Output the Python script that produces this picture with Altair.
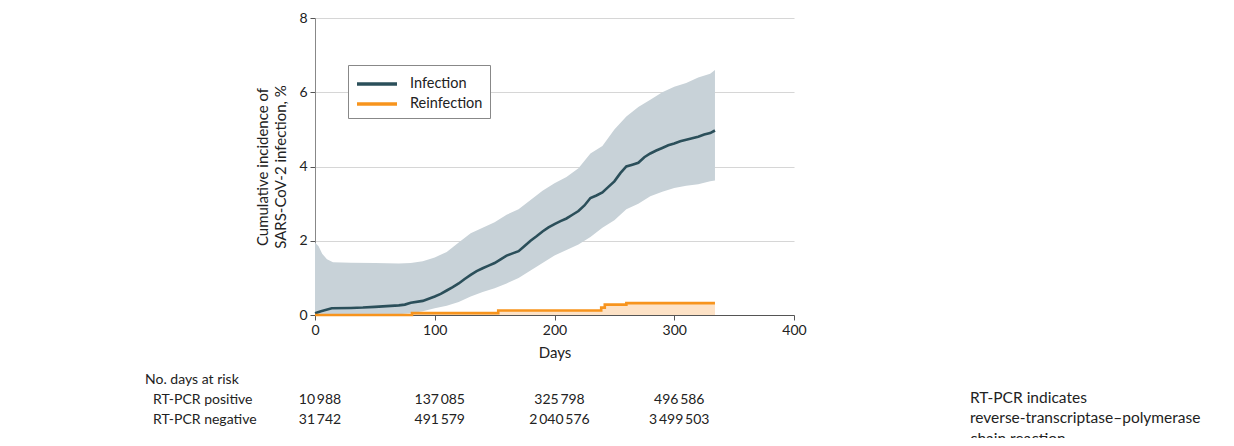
import altair as alt
import pandas as pd

# Infection cumulative incidence (estimate), %
inf_days = [0, 5, 14, 30, 40, 50, 60, 70, 75, 80, 90, 95, 100, 105, 110, 115, 120, 125, 130, 135, 140,
            145, 150, 155, 160, 165, 170, 175, 180, 185, 190, 195, 200, 205, 210, 215, 220, 225, 230,
            235, 240, 245, 250, 255, 260, 265, 270, 275, 280, 285, 290, 295, 300, 305, 310, 315, 320,
            325, 330, 334]
inf_est = [0.05, 0.1, 0.18, 0.19, 0.2, 0.22, 0.24, 0.26, 0.28, 0.33, 0.38, 0.44, 0.5, 0.57, 0.66, 0.75,
           0.85, 0.97, 1.08, 1.18, 1.26, 1.33, 1.4, 1.5, 1.6, 1.66, 1.72, 1.86, 2.0, 2.12, 2.25, 2.36,
           2.45, 2.53, 2.6, 2.7, 2.8, 2.95, 3.15, 3.22, 3.3, 3.45, 3.6, 3.82, 4.0, 4.05, 4.1, 4.25,
           4.35, 4.43, 4.5, 4.57, 4.62, 4.68, 4.72, 4.76, 4.8, 4.86, 4.9, 4.97]

# 95% CI band for infection
band_days = [0, 3, 6, 10, 15, 30, 50, 70, 80, 90, 100, 110, 120, 130, 140, 150, 160, 170, 180, 190,
             200, 210, 220, 230, 240, 250, 260, 270, 280, 290, 300, 310, 320, 330, 334]
band_lo = [0.0, 0.0, 0.0, 0.0, 0.0, 0.0, 0.0, 0.02, 0.05, 0.1, 0.18, 0.25, 0.35, 0.5, 0.62, 0.72, 0.85,
           1.0, 1.2, 1.4, 1.6, 1.75, 1.9, 2.1, 2.35, 2.55, 2.85, 3.0, 3.2, 3.32, 3.42, 3.48, 3.52,
           3.6, 3.62]
band_hi = [1.95, 1.85, 1.65, 1.5, 1.42, 1.41, 1.4, 1.39, 1.4, 1.45, 1.55, 1.7, 1.95, 2.2, 2.35, 2.5,
           2.7, 2.85, 3.1, 3.35, 3.55, 3.72, 3.95, 4.35, 4.55, 5.0, 5.35, 5.6, 5.8, 6.0, 6.15, 6.25,
           6.4, 6.5, 6.6]

# Reinfection cumulative incidence (step estimate), %
reinf_days = [0, 81, 153, 239, 242, 260, 334]
reinf_est = [0.0, 0.05, 0.12, 0.2, 0.28, 0.32, 0.32]

# Number at risk table
risk_days = [0, 100, 200, 300]
risk_pos = ["10\u2009988", "137\u2009085", "325\u2009798", "496\u2009586"]
risk_neg = ["31\u2009742", "491\u2009579", "2\u2009040\u2009576", "3\u2009499\u2009503"]

FONT = "Lato"
DARK = "#2b4f5a"
ORANGE = "#f7941d"
TXT = "#222222"

inf_df = pd.DataFrame({"day": inf_days, "val": inf_est, "series": "Infection"})
re_df = pd.DataFrame({"day": reinf_days, "val": reinf_est, "series": "Reinfection"})
band_df = pd.DataFrame({"day": band_days, "lo": band_lo, "hi": band_hi})

xs = alt.Scale(domain=[0, 400], nice=False)
ys = alt.Scale(domain=[0, 8], nice=False)
cs = alt.Scale(domain=["Infection", "Reinfection"], range=[DARK, ORANGE])

x_axis = alt.Axis(values=[0, 100, 200, 300, 400], title="Days", grid=False, labelFontSize=14,
                  titleFontSize=15, titleFontWeight="normal", domainColor="#555555",
                  tickColor="#555555", tickSize=5, labelPadding=3, titlePadding=8,
                  labelColor=TXT, titleColor=TXT, labelFont=FONT, titleFont=FONT,
                  labelFlush=False)
y_axis = alt.Axis(values=[0, 2, 4, 6, 8], title=["Cumulative incidence of", "SARS-CoV-2 infection, %"],
                  grid=True, gridColor="#d6d6d6", gridWidth=1.2, labelFontSize=14, titleFontSize=15,
                  titleFontWeight="normal", domainColor="#888888", tickColor="#555555", tickSize=5,
                  labelPadding=3, titlePadding=10, labelColor=TXT, titleColor=TXT,
                  labelFont=FONT, titleFont=FONT, titleLineHeight=18, labelFlush=False)

band = alt.Chart(band_df).mark_area(color="#c8d2d8", interpolate="linear").encode(
    x=alt.X("day:Q", scale=xs, axis=x_axis),
    y=alt.Y("lo:Q", scale=ys, axis=y_axis),
    y2="hi:Q",
)

reinf_fill = alt.Chart(re_df).mark_area(color="#fde2c6", interpolate="step-after").encode(
    x=alt.X("day:Q", scale=xs),
    y=alt.Y("val:Q", scale=ys),
)

legend = alt.Legend(title=None, orient="none", legendX=33, legendY=47,
                    symbolType="M-1,0H3", symbolSize=400, symbolStrokeWidth=3.5,
                    labelFontSize=14.5, labelFont=FONT, labelColor=TXT, labelOffset=31,
                    strokeColor="#888888", padding=7, rowPadding=1,
                    fillColor="white", symbolFillColor="transparent")

inf_line = alt.Chart(inf_df).mark_line(interpolate="linear", strokeWidth=2.6).encode(
    x=alt.X("day:Q", scale=xs),
    y=alt.Y("val:Q", scale=ys),
    color=alt.Color("series:N", scale=cs, legend=legend),
)
re_line = alt.Chart(re_df).mark_line(interpolate="step-after", strokeWidth=2.6).encode(
    x=alt.X("day:Q", scale=xs),
    y=alt.Y("val:Q", scale=ys),
    color=alt.Color("series:N", scale=cs, legend=legend),
)

risk_df = pd.DataFrame({"day": risk_days, "pos": risk_pos, "neg": risk_neg})
pos_text = alt.Chart(risk_df).mark_text(align="center", baseline="middle", fontSize=14, font=FONT,
                                        dx=5, color=TXT, clip=False).encode(
    x=alt.X("day:Q", scale=xs), y=alt.value(382), text="pos:N")
neg_text = alt.Chart(risk_df).mark_text(align="center", baseline="middle", fontSize=14, font=FONT,
                                        dx=5, color=TXT, clip=False).encode(
    x=alt.X("day:Q", scale=xs), y=alt.value(402), text="neg:N")

labels_df = pd.DataFrame({"t": ["No. days at risk", "RT-PCR positive", "RT-PCR negative"],
                          "x": [-170, -162, -162], "y": [362, 382, 402]})
row_labels = alt.Chart(labels_df).mark_text(align="left", baseline="middle", fontSize=14, font=FONT,
                                            color=TXT).encode(
    x=alt.X("x:Q", scale=None), y=alt.Y("y:Q", scale=None), text="t:N")

note_df = pd.DataFrame({"t": ["RT-PCR indicates", "reverse-transcriptase\u2013polymerase", "chain reaction"],
                        "x": [655, 655, 655], "y": [380, 400, 421]})
note = alt.Chart(note_df).mark_text(align="left", baseline="middle", fontSize=15.5, font=FONT,
                                    color=TXT).encode(
    x=alt.X("x:Q", scale=None), y=alt.Y("y:Q", scale=None), text="t:N")

chart = alt.layer(band, reinf_fill, inf_line, re_line, pos_text, neg_text, row_labels, note).properties(
    width=479, height=297,
    autosize=alt.AutoSizeParams(type="none"),
    padding={"left": 307, "top": 10, "right": 432, "bottom": 123},
).configure_view(stroke=None).configure_axis(zindex=1)

chart.save("out.html", embed_options={"renderer": "svg", "actions": False})
